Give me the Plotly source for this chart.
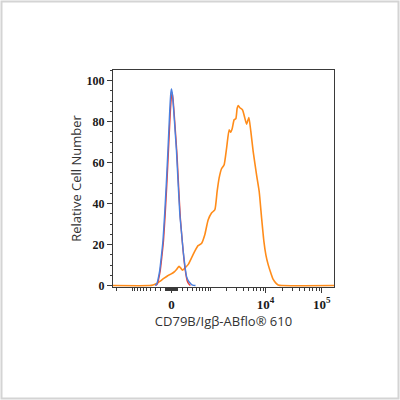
import numpy as np
import plotly.graph_objects as go

# Display coordinates on a biexponential (logicle-like) axis, in decades
orange_x = [1.279, 1.934, 1.993, 2.059, 2.113, 2.184, 2.255, 2.309, 2.363, 2.416, 2.457, 2.488,
            2.518, 2.559, 2.618, 2.679, 2.738, 2.796, 2.857, 2.916, 2.975, 3.036, 3.095, 3.136,
            3.171, 3.214, 3.261, 3.304, 3.350, 3.377, 3.404, 3.439, 3.470, 3.493, 3.514, 3.541,
            3.589, 3.630, 3.661, 3.702, 3.737, 3.779, 3.839, 3.886, 3.929, 3.970, 4.005, 4.046,
            4.095, 4.136, 4.184, 4.225, 4.291, 5.22]
orange_y = [0, 0, 0.3, 1, 2, 3.5, 4.8, 5.6, 6.5, 8, 9.4, 8.5,
            7.5, 8.5, 10.2, 13.5, 16.8, 19.5, 20.5, 24.8, 32, 35.4, 37, 46,
            52.4, 57, 59, 67, 76, 74.8, 76.5, 80.9, 81.5, 86.5, 87.8, 86.8,
            85.7, 81.7, 78.8, 82, 75.2, 65.4, 54, 45.9, 33, 21.6, 15, 10.2,
            6, 3, 1.2, 0.3, 0, 0]

blue_x = [2.03, 2.06, 2.08, 2.11, 2.14, 2.17, 2.20, 2.23, 2.26, 2.29, 2.31, 2.322,
          2.335, 2.36, 2.39, 2.41, 2.44, 2.47, 2.50, 2.53, 2.56, 2.59, 2.63, 2.67, 2.70, 2.75]
blue_y = [0, 0.8, 2.8, 7, 14, 22, 35, 50, 67, 85, 94, 96,
          94, 86, 74, 66, 50, 35, 26, 17, 10, 4.5, 2, 0.8, 0.2, 0]

red_x = [2.04, 2.07, 2.09, 2.12, 2.15, 2.18, 2.21, 2.24, 2.27, 2.30, 2.32, 2.335,
         2.35, 2.38, 2.42, 2.45, 2.48, 2.51, 2.54, 2.57, 2.60, 2.63, 2.66]
red_y = [0, 0.8, 2.8, 7, 14, 22, 35, 50, 67, 84, 92, 94,
         91, 80, 64, 48, 33, 23, 14, 7, 2.5, 0.8, 0]

major_vals = [0, 1e4, 1e5]
major_text = ["0", "10<sup>4</sup>", "10<sup>5</sup>"]
minor_vals = ([-2000, -1000] + list(range(-900, 0, 100)) + list(range(-90, 0, 10)) +
              list(range(10, 100, 10)) + list(range(100, 1000, 100)) +
              list(range(1000, 10000, 1000)) + list(range(20000, 100000, 10000)))
y_ticks = [0, 20, 40, 60, 80, 100]

W = 209.0  # linear-region width of the display transform


def disp(v):
    v = np.asarray(v, dtype=float)
    return np.log10((v + np.sqrt(v * v + 4 * W * W)) / 2)


x_range = [1.279, 5.22]
y_range = [-0.7, 105.2]

fig = go.Figure()
fig.add_trace(go.Scatter(x=orange_x, y=orange_y, mode="lines",
                         line=dict(color="#FF8C1A", width=1.6, shape="spline", smoothing=0.5),
                         hoverinfo="skip"))
fig.add_trace(go.Scatter(x=red_x, y=red_y, mode="lines",
                         line=dict(color="#E8403A", width=1.4, shape="spline", smoothing=0.5),
                         hoverinfo="skip"))
fig.add_trace(go.Scatter(x=blue_x, y=blue_y, mode="lines",
                         line=dict(color="#4A80E0", width=1.4, shape="spline", smoothing=0.5),
                         hoverinfo="skip"))

ml, mr, mt, mb = 113, 66, 70, 113
pw = 400 - ml - mr
ph = 400 - mt - mb

axis_common = dict(showgrid=False, zeroline=False, showline=True, linecolor="#3a3a3a",
                   linewidth=1, mirror=True, ticks="outside", tickcolor="#3a3a3a",
                   tickwidth=1, ticklen=5)

fig.update_layout(
    width=400, height=400,
    margin=dict(l=ml, r=mr, t=mt, b=mb),
    paper_bgcolor="white", plot_bgcolor="white",
    showlegend=False,
    xaxis=dict(range=x_range, tickmode="array", tickvals=list(disp(major_vals)),
               ticktext=major_text,
               tickfont=dict(family="Liberation Serif", size=13, color="#1a1a1a", weight="bold"),
               minor=dict(tickmode="array", tickvals=list(disp(minor_vals)), ticklen=3,
                          ticks="outside", tickcolor="#3a3a3a", tickwidth=1, showgrid=False),
               title=dict(text="CD79B/Igβ-ABflo® 610", standoff=5,
                          font=dict(family="Open Sans", size=13, color="#333333")),
               **axis_common),
    yaxis=dict(range=y_range, tickmode="array", tickvals=y_ticks,
               ticktext=[str(t) for t in y_ticks],
               tickfont=dict(family="Liberation Serif", size=12, color="#1a1a1a", weight="bold"),
               minor=dict(dtick=5, ticklen=2, ticks="outside", tickcolor="#3a3a3a",
                          tickwidth=1, showgrid=False),
               title=dict(text="Relative Cell Number", standoff=2,
                          font=dict(family="Open Sans", size=13, color="#333333")),
               **axis_common),
)

# light outer frame around the whole image
fig.add_shape(type="rect", xref="paper", yref="paper",
              x0=(1.5 - ml) / pw, x1=(398.5 - ml) / pw,
              y0=(400 - mb - 398.5) / ph, y1=(400 - mb - 1.5) / ph,
              line=dict(color="#d4d4d4", width=2), fillcolor="rgba(0,0,0,0)", layer="below")

fig.write_html("out.html", config={"displayModeBar": False},
               post_script="document.body.style.margin='0';")
